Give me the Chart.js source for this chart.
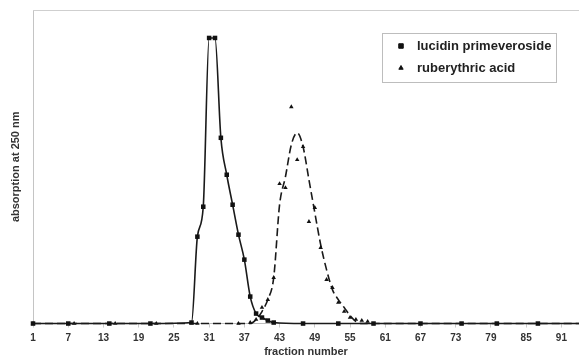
<!DOCTYPE html>
<html lang="en">
<head>
<meta charset="UTF-8">
<title>Absorption of fractions</title>
<script src="https://cdn.jsdelivr.net/npm/chart.js"></script>
<style>
  html, body { margin: 0; padding: 0; background: #fff; }
</style>
</head>
<body>
<canvas id="chart" width="579" height="356"></canvas>
<script>
// x axis tick labels (fraction number)
const xTicks = [1, 7, 13, 19, 25, 31, 37, 43, 49, 55, 61, 67, 73, 79, 85, 91];

// lucidin primeveroside - squares joined by solid line
const lucidinFrac = [1, 7, 14, 21, 28, 29, 30, 31, 32, 33, 34, 35, 36, 37, 38, 39, 40, 41, 42, 47, 53, 59, 67, 74, 80, 87, 94];
const lucidinAbs  = [0, 0, 0, 0, 0.01, 0.87, 1.17, 2.86, 2.86, 1.86, 1.49, 1.19, 0.89, 0.64, 0.27, 0.10, 0.06, 0.03, 0.01, 0, 0, 0, 0, 0, 0, 0, 0];

// ruberythric acid - triangles
const rubFrac = [1, 8, 15, 22, 29, 36, 38, 39, 40, 41, 42, 43, 44, 45, 46, 47, 48, 49, 50, 51, 52, 53, 54, 55, 56, 57, 58];
const rubAbs  = [0, 0, 0, 0, 0, 0, 0.01, 0.04, 0.16, 0.24, 0.46, 1.40, 1.36, 2.17, 1.64, 1.77, 1.02, 1.16, 0.76, 0.44, 0.36, 0.21, 0.12, 0.06, 0.04, 0.03, 0.02];

// dashed trend line for ruberythric acid
const rubTrendFrac = [1, 38, 39, 40, 41, 42, 43, 44, 45, 46, 47, 48, 49, 50, 51, 52, 53, 54, 55, 56, 57, 94];
const rubTrendAbs  = [0, 0, 0.04, 0.12, 0.24, 0.46, 1.19, 1.47, 1.79, 1.91, 1.77, 1.44, 1.11, 0.79, 0.54, 0.34, 0.24, 0.16, 0.08, 0.02, 0, 0];

const FONT = "'Liberation Sans', Arial, sans-serif";
const pts = (xs, ys) => xs.map((x, i) => ({ x: x, y: ys[i] }));

// legend marker settings
const legendItems = [
    { style: 'rect', radius: 3.2 },
    { style: 'triangle', radius: 2.5 }
];

// light top border of the plot area + boxed legend in the upper right
const extras = {
    id: 'extras',
    beforeDatasetsDraw(chart) {
        const { ctx, chartArea: a } = chart;
        ctx.save();
        ctx.strokeStyle = '#cfcfcf';
        ctx.lineWidth = 1;
        ctx.beginPath();
        ctx.moveTo(a.left, a.top + 0.5);
        ctx.lineTo(a.right, a.top + 0.5);
        ctx.stroke();
        ctx.restore();
    },
    afterDraw(chart) {
        const ctx = chart.ctx;
        const ds = chart.data.datasets;
        ctx.save();
        ctx.fillStyle = '#fff';
        ctx.fillRect(382, 33, 175, 50);
        ctx.strokeStyle = '#bdbdbd';
        ctx.lineWidth = 1;
        ctx.strokeRect(382.5, 33.5, 174, 49);
        ctx.font = 'bold 13px ' + FONT;
        ctx.textBaseline = 'middle';
        legendItems.forEach((item, i) => {
            const y = 46 + i * 22;
            ctx.fillStyle = '#111';
            ctx.strokeStyle = '#111';
            Chart.helpers.drawPoint(ctx, { pointStyle: item.style, radius: item.radius, borderWidth: 0.5 }, 401, y);
            ctx.fillStyle = '#222';
            ctx.fillText(ds[i].label, 417, y);
        });
        ctx.restore();
    }
};

new Chart(document.getElementById('chart'), {
    type: 'scatter',
    data: {
        datasets: [
            {
                label: 'lucidin primeveroside',
                data: pts(lucidinFrac, lucidinAbs),
                showLine: true,
                borderColor: '#1a1a1a',
                borderWidth: 1.6,
                backgroundColor: '#111',
                pointStyle: 'rect',
                pointRadius: ctx => (ctx.raw && ctx.raw.x > 90 ? 0 : 3.2),
                pointBorderWidth: 0,
                cubicInterpolationMode: 'monotone',
                clip: false
            },
            {
                label: 'ruberythric acid',
                data: pts(rubFrac, rubAbs),
                showLine: false,
                backgroundColor: '#111',
                borderColor: '#111',
                pointStyle: 'triangle',
                pointRadius: 2.6,
                pointBorderWidth: 0,
                clip: false
            },
            {
                label: 'ruberythric acid trend',
                data: pts(rubTrendFrac, rubTrendAbs),
                showLine: true,
                borderColor: '#1a1a1a',
                borderWidth: 1.6,
                borderDash: [8, 4],
                pointRadius: 0,
                cubicInterpolationMode: 'monotone',
                clip: false
            }
        ]
    },
    options: {
        responsive: false,
        animation: false,
        layout: { autoPadding: false, padding: { top: 10, left: 0, right: 0, bottom: 0 } },
        plugins: {
            legend: { display: false },
            tooltip: { enabled: false }
        },
        scales: {
            x: {
                type: 'linear',
                min: 1,
                max: 94,
                afterBuildTicks: axis => { axis.ticks = xTicks.map(v => ({ value: v })); },
                grid: { drawOnChartArea: false, drawTicks: true, tickLength: 4, color: '#cccccc' },
                border: { color: '#bdbdbd' },
                ticks: {
                    padding: 6,
                    maxRotation: 0,
                    autoSkip: false,
                    color: '#333',
                    font: { family: FONT, size: 10, weight: 'bold', lineHeight: 1 }
                },
                title: {
                    display: true,
                    text: 'fraction number',
                    color: '#333',
                    font: { family: FONT, size: 11, weight: 'bold', lineHeight: 0.36 },
                    padding: { top: 0, bottom: 2.5 }
                }
            },
            y: {
                min: 0,
                max: 3.14,
                ticks: { display: false },
                grid: { display: false, drawTicks: false, tickLength: 0 },
                border: { color: '#c4c4c4' },
                title: {
                    display: true,
                    text: 'absorption at 250 nm',
                    color: '#333',
                    font: { family: FONT, size: 11, weight: 'bold', lineHeight: 1.2 },
                    padding: { top: 9, bottom: 10.8 }
                }
            }
        }
    },
    plugins: [extras]
});
</script>
</body>
</html>
